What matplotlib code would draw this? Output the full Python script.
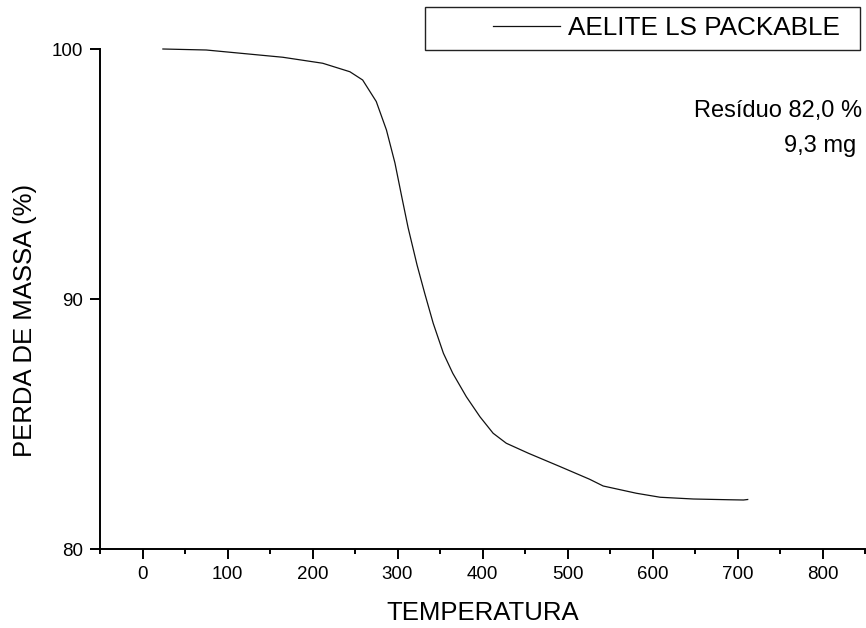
import matplotlib
matplotlib.use("Agg")
import matplotlib.pyplot as plt
from matplotlib.legend_handler import HandlerLine2D
from matplotlib.ticker import MultipleLocator, FixedLocator

plt.rcParams['font.family'] = ['Liberation Sans', 'DejaVu Sans']

# TGA curve: temperature (°C) vs remaining mass (%)
temperatura = [24, 75, 165, 212, 244, 259, 275, 287, 297, 305, 312.5, 323,
               332, 342, 354, 365, 381, 397, 412.5, 428, 454, 491, 526,
               542, 581, 609, 648, 690, 707, 712]
massa = [100.0, 99.96, 99.67, 99.43, 99.09, 98.76, 97.90, 96.76, 95.44, 94.09,
         92.85, 91.36, 90.23, 89.03, 87.83, 87.03, 86.09, 85.29, 84.63, 84.23,
         83.83, 83.30, 82.79, 82.52, 82.23, 82.07, 82.00, 81.97, 81.96, 81.98]

serie_nome = "AELITE LS PACKABLE"
residuo_txt = ["Resíduo 82,0 %", "9,3 mg"]
x_ticks = [0, 100, 200, 300, 400, 500, 600, 700, 800]
y_ticks = [80, 90, 100]

W, H = 866, 628
fig = plt.figure(figsize=(W / 100, H / 100), dpi=100)
ax = fig.add_axes([100 / W, 1 - 549 / H, 765 / W, 500 / H])

line, = ax.plot(temperatura, massa, color='#111111', lw=0.9, clip_on=False,
                label=serie_nome)

ax.set_xlim(-50, 850)
ax.set_ylim(80, 100)
ax.xaxis.set_major_locator(FixedLocator(x_ticks))
ax.xaxis.set_minor_locator(MultipleLocator(100, offset=50))
ax.yaxis.set_major_locator(FixedLocator(y_ticks))

for s in ('top', 'right'):
    ax.spines[s].set_visible(False)
for s in ('left', 'bottom'):
    ax.spines[s].set_linewidth(1.4)

ax.tick_params(axis='both', which='major', direction='out', length=7.2,
               width=1.4, labelsize=13.5, pad=5)
ax.tick_params(axis='x', which='minor', direction='out', length=3.6, width=1.4)

ax.set_xlabel("TEMPERATURA", fontsize=18.5, labelpad=13)
ax.set_ylabel("PERDA DE MASSA (%)", fontsize=18.5)
ax.yaxis.set_label_coords(-0.083, 0.458)


class _ShiftedLine(HandlerLine2D):
    """Legend line drawn only in the right part of the handle area."""

    def __init__(self, start_frac, **kw):
        super().__init__(**kw)
        self.start_frac = start_frac

    def create_artists(self, legend, orig_handle, xdescent, ydescent, width,
                       height, fontsize, trans):
        artists = super().create_artists(legend, orig_handle, xdescent,
                                         ydescent, width, height, fontsize,
                                         trans)
        x0 = -xdescent + self.start_frac * width
        x1 = -xdescent + width
        for a in artists:
            n = len(a.get_ydata())
            a.set_xdata([x0 + (x1 - x0) * i / max(n - 1, 1) for i in range(n)])
        return artists


leg = ax.legend(handles=[line], loc='upper left',
                bbox_to_anchor=(425 / W, 1 - 49 / H, 435 / W, 42 / H),
                bbox_transform=fig.transFigure, mode='expand',
                borderaxespad=0, borderpad=0.36, handlelength=4.8,
                handletextpad=0.3, fontsize=18.8, fancybox=False,
                edgecolor='#222222', framealpha=1,
                handler_map={line: _ShiftedLine(0.47)})
leg.get_frame().set_linewidth(1.0)
leg.get_lines()[0].set_linewidth(0.9)

fig.text(862 / W, 1 - 117 / H, residuo_txt[0], ha='right', va='baseline',
         fontsize=17)
fig.text(856 / W, 1 - 152 / H, residuo_txt[1], ha='right', va='baseline',
         fontsize=17)

fig.savefig("out.png", dpi=100)
